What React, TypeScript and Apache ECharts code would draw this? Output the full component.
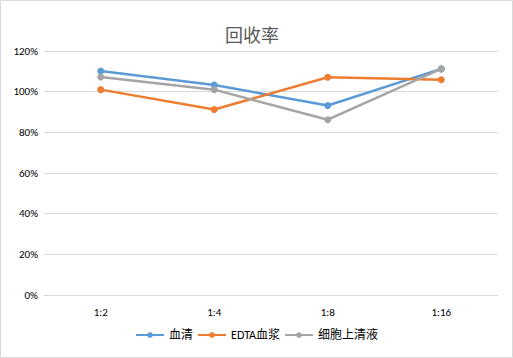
import React, { useEffect, useRef } from "react";
import * as echarts from "echarts";

const categories = ["1:2", "1:4", "1:8", "1:16"];
const serum = [110.2, 103.3, 93.2, 111.2];
const edtaPlasma = [101.0, 91.2, 107.1, 105.9];
const supernatant = [107.2, 101.0, 86.2, 111.2];
const seriesNames = ["血清", "EDTA血浆", "细胞上清液"];
const colors = ["#5B9BD5", "#ED7D31", "#A5A5A5"];

export default function App() {
  const ref = useRef<HTMLDivElement>(null);
  useEffect(() => {
    document.body.style.margin = "0";
    const chart = echarts.init(ref.current!, null, { renderer: "svg" });
    const font = "Calibri, 'Liberation Sans', 'Noto Sans CJK SC', sans-serif";
    const mk = (name: string, data: number[], color: string) => ({
      name,
      type: "line",
      data,
      symbol: "circle",
      symbolSize: 7,
      lineStyle: { width: 2.5, color },
      itemStyle: { color },
    });
    chart.setOption({
      animation: false,
      backgroundColor: "#fff",
      title: {
        text: "回收率",
        left: 220,
        top: 20,
        textStyle: { fontSize: 18, fontWeight: "normal", color: "#595959", fontFamily: "'Noto Sans CJK SC', sans-serif" },
      },
      graphic: [
        {
          type: "rect",
          shape: { x: 0.5, y: 0.5, width: 512, height: 357 },
          style: { fill: "none", stroke: "#d9d9d9", lineWidth: 1 },
          silent: true,
        },
      ],
      legend: {
        bottom: 12,
        left: "center",
        itemWidth: 28,
        itemHeight: 7,
        itemGap: 4,
        textStyle: { color: "#000", fontSize: 12, fontFamily: font },
        data: seriesNames,
      },
      grid: { left: 44, right: 15, top: 51, bottom: 63, containLabel: false },
      xAxis: {
        type: "category",
        data: categories,
        axisLine: { show: true, lineStyle: { color: "#d9d9d9" } },
        axisTick: { show: false },
        axisLabel: { color: "#000", fontSize: 11, fontFamily: font, margin: 12 },
      },
      yAxis: {
        type: "value",
        min: 0,
        max: 120,
        interval: 20,
        axisLine: { show: false },
        axisTick: { show: false },
        splitLine: { lineStyle: { color: "#d9d9d9" } },
        axisLabel: { color: "#000", fontSize: 11, fontFamily: font, formatter: "{value}%", margin: 6 },
      },
      series: [
        mk(seriesNames[0], serum, colors[0]),
        mk(seriesNames[1], edtaPlasma, colors[1]),
        mk(seriesNames[2], supernatant, colors[2]),
      ],
    });
    return () => chart.dispose();
  }, []);
  return <div ref={ref} style={{ width: 513, height: 358 }} />;
}
